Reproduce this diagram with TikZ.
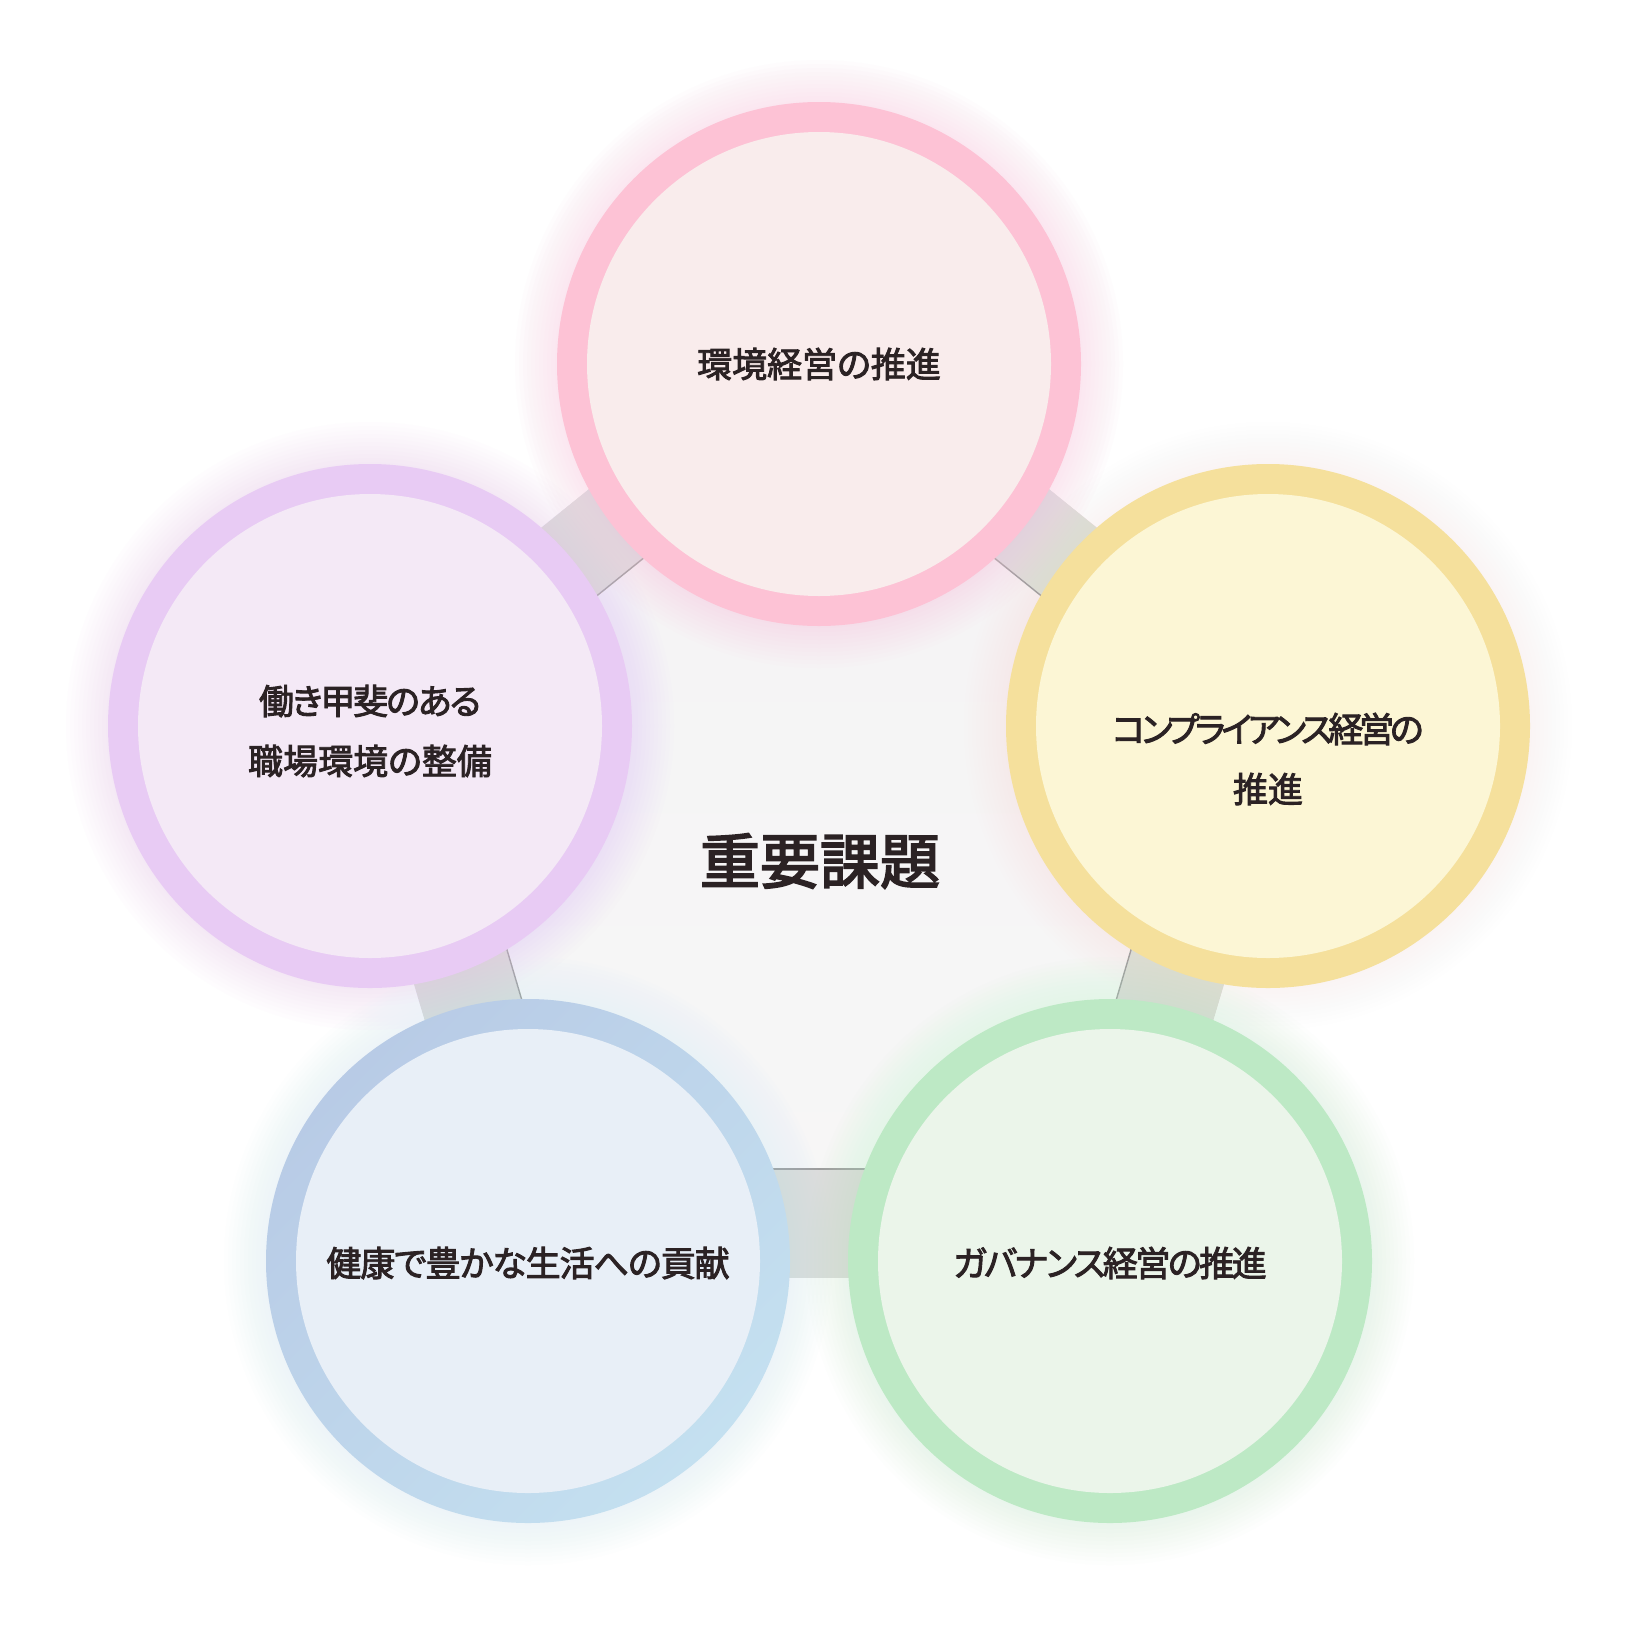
\documentclass[tikz,border=0pt]{standalone}
\usepackage{fontspec}
\newfontfamily\jp[RawFeature=+palt, FakeBold=2.6]{Noto Sans CJK JP}
\newfontfamily\jpt[FakeBold=3]{Noto Sans CJK JP}
\usetikzlibrary{calc}
\definecolor{txt}{HTML}{2B2224}
\definecolor{pentA}{HTML}{F4F3F5}
\definecolor{pentB}{HTML}{F7F7F6}
\definecolor{bandc}{HTML}{DCDCDC}
\definecolor{bandl}{HTML}{9C9C9C}
\definecolor{ringT}{HTML}{FDC2D5}
\definecolor{fillT}{HTML}{F9ECEC}
\definecolor{glowT}{HTML}{FBC4DE}
\definecolor{ringL}{HTML}{E8CBF4}
\definecolor{fillL}{HTML}{F4E9F6}
\definecolor{glowL}{HTML}{EBC6F5}
\definecolor{ringR}{HTML}{F5E09C}
\definecolor{fillR}{HTML}{FCF6D5}
\definecolor{glowR}{HTML}{FADDD0}
\definecolor{ringBLa}{HTML}{B8CBE6}
\definecolor{ringBLb}{HTML}{C4E0F0}
\definecolor{fillBL}{HTML}{E8EFF7}
\definecolor{glowBL}{HTML}{C8F2F8}
\definecolor{ringBR}{HTML}{BDE9C5}
\definecolor{fillBR}{HTML}{EBF5EA}
\definecolor{glowBR}{HTML}{C4F5CC}
\tikzset{
  bandfill/.style={fill=bandc},
  bandline/.style={draw=bandl, line width=1.4pt},
  disc/.style={circle, inner sep=0pt, minimum size=464pt},
  lbl/.style={text=txt, align=center, font=\jp\fontsize{35}{60}\selectfont},
  ttl/.style={text=txt, font=\jpt\fontsize{60}{70}\selectfont}
}
\newcommand{\myband}[4]{%
  \fill[bandfill] ($(#1)!#4!90:(#2)$) -- ($(#2)!#4!-90:(#1)$) -- ($(#2)!#3!90:(#1)$) -- ($(#1)!#3!-90:(#2)$) -- cycle;
  \draw[bandline] ($(#1)!#3!-90:(#2)$) -- ($(#2)!#3!90:(#1)$);
}
\newcommand{\myglow}[3]{%
  \foreach \k in {1,...,11} {\fill[#2, opacity=#3] (#1) circle[radius=260+4*\k];}
}
\begin{document}
\begin{tikzpicture}[x=1pt,y=-1pt]
\useasboundingbox (0,0) rectangle (1640,1638);
\fill[white] (0,0) rectangle (1640,1638);
\coordinate (T) at (819,364);
\coordinate (R) at (1268,726);
\coordinate (BR) at (1110,1261);
\coordinate (BL) at (528,1261);
\coordinate (L) at (370,726);
% pentagon interior
\shade[top color=pentA, bottom color=pentB] (T) -- (R) -- (BR) -- (BL) -- (L) -- cycle;
% bands
\myband{T}{R}{41pt}{47pt}
\myband{R}{BR}{68pt}{31pt}
\myband{BR}{BL}{92pt}{17pt}
\myband{BL}{L}{68pt}{31pt}
\myband{L}{T}{41pt}{47pt}
% glows
\myglow{T}{glowT}{0.04}
\myglow{L}{glowL}{0.035}
\myglow{R}{glowR}{0.012}
\myglow{BL}{glowBL}{0.025}
\myglow{BR}{glowBR}{0.028}
% rings
\fill[ringT] (T) circle[radius=262];
\fill[ringL] (L) circle[radius=262];
\fill[ringR] (R) circle[radius=262];
\shade[top color=ringBLa, bottom color=ringBLb, shading angle=45] (BL) circle[radius=262];
\fill[ringBR] (BR) circle[radius=262];
% discs
\node[disc, fill=fillT] (cT) at (T) {};
\node[disc, fill=fillL] (cL) at (L) {};
\node[disc, fill=fillR] (cR) at (R) {};
\node[disc, fill=fillBL] (cBL) at (BL) {};
\node[disc, fill=fillBR] (cBR) at (BR) {};
% labels
\node[lbl] (tT) at (cT.center) {環境経営の推進};
\node[lbl, yshift=-5pt] (tL) at (cL.center) {{\addfontfeature{LetterSpace=-6}働き甲斐のある}\\職場環境の整備};
\node[lbl, yshift=-33pt] (tR) at (cR.center) {{\addfontfeature{LetterSpace=-12}コンプライアンス経営の}\\推進};
\node[lbl, yshift=-2pt] (tBL) at (cBL.center) {{\addfontfeature{LetterSpace=-3}健康で豊かな生活への貢献}};
\node[lbl, yshift=-2pt] (tBR) at (cBR.center) {{\addfontfeature{LetterSpace=-7}ガバナンス経営の推進}};
\node[ttl] (title) at (820,861) {重要課題};
\end{tikzpicture}
\end{document}
